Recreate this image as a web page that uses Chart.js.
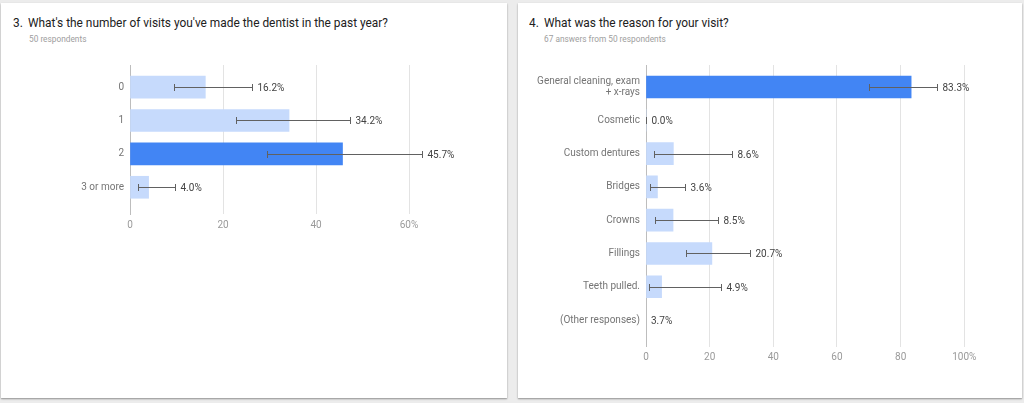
<!DOCTYPE html>
<html>
<head>
<meta charset="utf-8">
<script src="https://cdn.jsdelivr.net/npm/chart.js@4"></script>
<style>
  html, body { margin: 0; padding: 0; }
  body { width: 1024px; height: 403px; background: #ececec; position: relative; overflow: hidden; font-family: Roboto, "Noto Sans", sans-serif; }
  .card { position: absolute; background: #fff; box-shadow: 0 1px 2px rgba(0,0,0,0.28), 0 1px 1px rgba(0,0,0,0.12); }
  .num, .ttl { position: absolute; font-size: 13px; line-height: 16px; color: #212121; white-space: nowrap; transform: scaleX(0.915); transform-origin: 0 50%; }
  .sub { position: absolute; font-size: 8.3px; line-height: 11px; color: #9e9e9e; white-space: nowrap; }
  canvas { position: absolute; top: 0; }
</style>
</head>
<body>
<div class="card" style="left:1px;top:3px;width:506px;height:395px;"></div>
<div class="card" style="left:518px;top:3px;width:504px;height:395px;"></div>

<div class="num" style="left:13px;top:15px;">3.</div>
<div class="ttl" style="left:28px;top:15px;">What's the number of visits you've made the dentist in the past year?</div>
<div class="sub" style="left:29px;top:34px;">50 respondents</div>

<div class="num" style="left:529px;top:15px;">4.</div>
<div class="ttl" style="left:544px;top:15px;">What was the reason for your visit?</div>
<div class="sub" style="left:544px;top:34px;">67 answers from 50 respondents</div>

<canvas id="c1" width="512" height="403" style="left:0;"></canvas>
<canvas id="c2" width="512" height="403" style="left:512px;"></canvas>

<script>
// ---- Data: chart 1 ----
const visitCategories = ['0', '1', '2', '3 or more'];
const visitPercents   = [16.2, 34.2, 45.7, 4.0];
const visitErrLow     = [9.5, 22.9, 29.5, 1.8];
const visitErrHigh    = [26.3, 47.3, 62.7, 9.6];
const visitTicks      = [0, 20, 40, 60];

// ---- Data: chart 2 ----
const reasonCategories = [['General cleaning, exam', '+ x-rays'], 'Cosmetic', 'Custom dentures', 'Bridges', 'Crowns', 'Fillings', 'Teeth pulled.', '(Other responses)'];
const reasonPercents   = [83.3, 0.0, 8.6, 3.6, 8.5, 20.7, 4.9, 3.7];
const reasonHasBar     = [true, true, true, true, true, true, true, false];
const reasonErrLow     = [70.1, 0.0, 2.6, 1.3, 2.9, 12.6, 1.0, null];
const reasonErrHigh    = [91.5, 0.0, 27.1, 12.4, 22.5, 32.6, 23.6, null];
const reasonTicks      = [0, 20, 40, 60, 80, 100];

const BLUE = '#4285f4', LIGHT = '#c6dafc';
const FONT = 'Roboto, "Noto Sans", sans-serif';

const errPlugin = {
  id: 'errbars',
  afterDatasetsDraw(chart, args, opts) {
    const { ctx } = chart;
    const xs = chart.scales.x, ys = chart.scales.y;
    ctx.save();
    ctx.strokeStyle = '#616161';
    ctx.lineWidth = 1;
    ctx.font = '10px ' + FONT;
    ctx.fillStyle = '#424242';
    ctx.textBaseline = 'middle';
    ctx.textAlign = 'left';
    opts.text.forEach((t, i) => {
      const yc = Math.round(ys.getPixelForValue(i));
      const lo = opts.low[i], hi = opts.high[i];
      let endX = xs.getPixelForValue(0);
      if (lo != null && hi != null) {
        const x1 = Math.round(xs.getPixelForValue(lo)) + 0.5;
        const x2 = Math.round(xs.getPixelForValue(hi)) + 0.5;
        ctx.beginPath();
        ctx.moveTo(x1, yc + 0.5); ctx.lineTo(x2, yc + 0.5);
        ctx.moveTo(x1, yc - 3); ctx.lineTo(x1, yc + 4);
        ctx.moveTo(x2, yc - 3); ctx.lineTo(x2, yc + 4);
        ctx.stroke();
        endX = x2;
      }
      ctx.fillText(t, endX + 5, yc + 1);
    });
    ctx.restore();
  }
};

function makeChart(id, cats, values, hasBar, low, high, ticks, pad, yWidth) {
  const maxV = Math.max(...values.filter((v, i) => hasBar[i]));
  const data = values.map((v, i) => ({ x: hasBar[i] ? v : null, y: i }));
  const colors = values.map(v => v === maxV ? BLUE : LIGHT);
  const texts = values.map(v => v.toFixed(1) + '%');
  const n = cats.length;
  const tMax = ticks[ticks.length - 1];
  return new Chart(document.getElementById(id), {
    type: 'bar',
    data: { datasets: [{ data, backgroundColor: colors, borderWidth: 0, barThickness: 22 }] },
    options: {
      indexAxis: 'y',
      responsive: false,
      animation: false,
      layout: { padding: pad },
      plugins: {
        legend: { display: false },
        tooltip: { enabled: false },
        errbars: { low, high, text: texts }
      },
      scales: {
        x: {
          type: 'linear', min: 0, max: tMax,
          afterBuildTicks: s => { s.ticks = ticks.map(v => ({ value: v })); },
          afterFit: s => { s.height = 20; },
          grid: { drawTicks: false, color: c => (c.tick && c.tick.value === 0) ? '#bdbdbd' : '#e3e3e3' },
          border: { display: false },
          ticks: {
            padding: 5, color: '#9a9a9a', font: { family: FONT, size: 10 },
            callback: v => v === tMax ? v + '%' : String(v)
          }
        },
        y: {
          type: 'linear', reverse: true, min: -0.66, max: n - 0.2,
          offset: false, bounds: 'data', grace: 0,
          afterBuildTicks: s => { s.ticks = cats.map((c, i) => ({ value: i })); },
          afterFit: s => { s.width = yWidth; },
          grid: { display: false, drawTicks: false, offset: false },
          border: { display: true, color: '#bdbdbd' },
          ticks: {
            autoSkip: false, padding: 6, color: '#757575',
            font: { family: FONT, size: 10, lineHeight: 1.15 },
            callback: (v) => cats[v]
          }
        }
      }
    },
    plugins: [errPlugin]
  });
}

makeChart('c1', visitCategories, visitPercents, visitPercents.map(() => true), visitErrLow, visitErrHigh, visitTicks,
  { left: 10, right: 103, top: 65, bottom: 169 }, 120);
makeChart('c2', reasonCategories, reasonPercents, reasonHasBar, reasonErrLow, reasonErrHigh, reasonTicks,
  { left: 10, right: 59.7, top: 65, bottom: 36.3 }, 124);
</script>
</body>
</html>
